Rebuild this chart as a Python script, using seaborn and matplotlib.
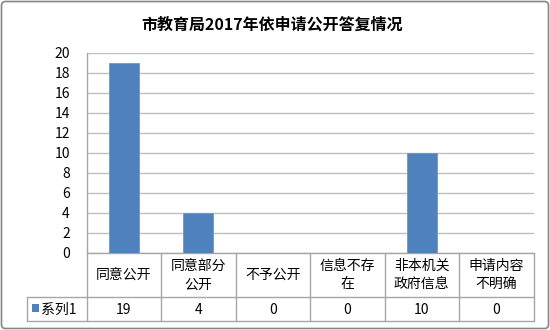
import matplotlib
matplotlib.use("Agg")
import matplotlib.pyplot as plt
import seaborn as sns
import pandas as pd
from matplotlib.transforms import Affine2D, blended_transform_factory
from matplotlib.patches import FancyBboxPatch, Rectangle
from matplotlib.lines import Line2D

# ---- data ----
title = "市教育局2017年依申请公开答复情况"
categories = ["同意公开", "同意部分公开", "不予公开", "信息不存在", "非本机关政府信息", "申请内容不明确"]
values = [19, 4, 0, 0, 10, 0]
series_name = "系列1"
y_ticks = [0, 2, 4, 6, 8, 10, 12, 14, 16, 18, 20]

sns.set_theme(style="white")
plt.rcParams["font.family"] = ["Noto Sans CJK SC", "DejaVu Sans"]

W, H = 550, 330
fig = plt.figure(figsize=(W / 100, H / 100), dpi=100)
fig.patch.set_facecolor("white")

# plot area in pixels (left, top, right, bottom)
L, T, R, B = 86.5, 53, 533.5, 253
ax = fig.add_axes([L / W, 1 - B / H, (R - L) / W, (B - T) / H])

df = pd.DataFrame({"cat": categories, "val": values})
BAR = "#4F81BD"
sns.barplot(data=df, x="cat", y="val", color=BAR, width=0.4, saturation=1,
            edgecolor="#6F97C8", linewidth=0.6, ax=ax, zorder=3)

ax.set_xlim(-0.5, len(categories) - 0.5)
ax.set_ylim(0, 20)
ax.set_yticks(y_ticks)
ax.set_yticklabels([str(v) for v in y_ticks], fontsize=10, color="#000000")
ax.tick_params(axis="y", length=0, pad=12)
ax.set_xticks([])
ax.set_xlabel("")
ax.set_ylabel("")
ax.yaxis.grid(True, color="#BFBFBF", linewidth=1)
ax.set_axisbelow(True)
for s in ["top", "right"]:
    ax.spines[s].set_visible(False)
for s in ["left", "bottom"]:
    ax.spines[s].set_color("#A6A6A6")
    ax.spines[s].set_linewidth(1)

# transforms: pixel coords (top-down) in figure, and blended data-x / pixel-y
pix = Affine2D().scale(1 / W, -1 / H).translate(0, 1) + fig.transFigure
bl = blended_transform_factory(ax.transData, pix)

LINE = "#A6A6A6"
row1_top, row2_top, row2_bot = B, 297, 321
legend_left = 26.7

def add_line(xs, ys, tr):
    fig.add_artist(Line2D(xs, ys, transform=tr, color=LINE, linewidth=1, clip_on=False))

# horizontal table lines
add_line([legend_left, R], [row2_top, row2_top], pix)
add_line([legend_left, R], [row2_bot, row2_bot], pix)
# vertical lines
add_line([legend_left, legend_left], [row2_top, row2_bot], pix)
add_line([L, L], [row1_top, row2_bot], pix)
for i in range(len(categories)):
    add_line([i + 0.5, i + 0.5], [row1_top, row2_bot], bl)

# header labels and values
for i, (c, v) in enumerate(zip(categories, values)):
    lab = c if len(c) <= 4 else c[:4] + "\n" + c[4:]
    fig.text(i, 275, lab, transform=bl, ha="center", va="center",
             fontsize=10, color="#000000", linespacing=1.4)
    fig.text(i, 309.5, str(v), transform=bl, ha="center", va="center",
             fontsize=10, color="#000000")

# legend key in table
fig.add_artist(Rectangle((32.3, 304.3), 6.7, 8, transform=pix, facecolor=BAR,
                         edgecolor="none"))
fig.text(41.5, 309.5, series_name, transform=pix, ha="left", va="center",
         fontsize=10, color="#000000")

# title
fig.text(272, 25, title, transform=pix, ha="center", va="center",
         fontsize=11.5, fontweight="bold", color="#000000")

# outer border
pixup = Affine2D().scale(1 / W, 1 / H) + fig.transFigure
fig.add_artist(FancyBboxPatch((1.5, 1.5), W - 3, H - 3,
                              boxstyle="round,pad=0,rounding_size=4",
                              transform=pixup, facecolor="none",
                              edgecolor="#868686", linewidth=1.2))

fig.savefig("out.png", dpi=100, facecolor="white")
